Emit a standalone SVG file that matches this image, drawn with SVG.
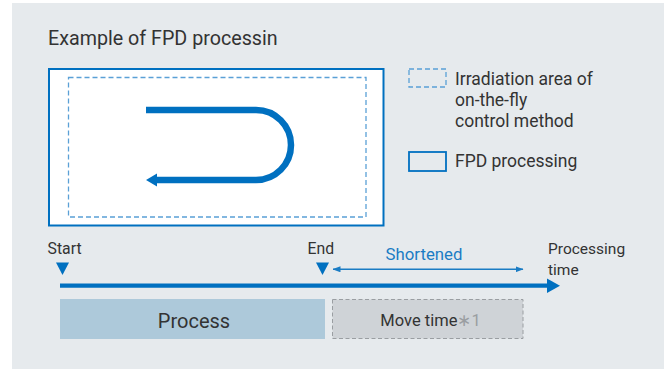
<svg xmlns="http://www.w3.org/2000/svg" width="664" height="369" viewBox="0 0 664 369">
<style>
text{font-family:Roboto,"Liberation Sans",sans-serif;fill:#333333}
.blue{stroke:#0070c0;fill:none}
.dash{stroke:#5aa0d6;fill:none;stroke-width:1.3;stroke-dasharray:5 3}
</style>
<defs>
<marker id="sm" viewBox="0 0 8 6" refX="7.5" refY="3" markerWidth="8" markerHeight="6" markerUnits="userSpaceOnUse" orient="auto-start-reverse">
<path d="M0,0 L8,3 L0,6 Z" fill="#1a7cc4"/>
</marker>
</defs>
<rect width="664" height="369" fill="#ffffff"/>
<rect x="12" y="3" width="652" height="366" fill="#e6eaed"/>
<text x="48" y="45" font-size="19.7">Example of FPD processin</text>
<g id="panel">
<rect x="49" y="69" width="334.5" height="156.5" fill="#ffffff" stroke="#0070c0" stroke-width="2"/>
<rect x="68.5" y="77.5" width="297.5" height="139.5" class="dash"/>
<path d="M146,110 H256 A35,35 0 0 1 256,180 H155" stroke="#0070c0" stroke-width="6.5" fill="none"/>
<path d="M146,180 L157,173.5 L157,186.5 Z" fill="#0070c0"/>
</g>
<g id="legend-irradiation">
<rect x="409" y="69" width="37" height="18" class="dash"/>
<text x="455" y="85" font-size="17.5">Irradiation area of</text>
<text x="455" y="106" font-size="17.5">on-the-fly</text>
<text x="455" y="127" font-size="17.5">control method</text>
</g>
<g id="legend-fpd">
<rect x="409" y="152" width="37" height="19" fill="none" stroke="#0070c0" stroke-width="1.8"/>
<text x="455" y="167" font-size="17.5">FPD processing</text>
</g>
<g id="start">
<text x="47.5" y="254" font-size="15.8">Start</text>
<path d="M56,262.5 L69,262.5 L62.5,275 Z" fill="#0070c0"/>
</g>
<g id="end">
<text x="307.5" y="254" font-size="15.8">End</text>
<path d="M316,262.5 L329,262.5 L322.5,275 Z" fill="#0070c0"/>
</g>
<g id="processing-time">
<text x="548" y="254" font-size="15.5">Processing</text>
<text x="548" y="275" font-size="15.5">time</text>
</g>
<g id="connectors">
<line x1="60" y1="285.7" x2="549" y2="285.7" stroke="#0070c0" stroke-width="4.2"/>
<path d="M547,278.5 L560,285.7 L547,293 Z" fill="#0070c0"/>
<line x1="333" y1="269.3" x2="523" y2="269.3" stroke="#1a7cc4" stroke-width="1.5" marker-start="url(#sm)" marker-end="url(#sm)"/>
</g>
<text x="424" y="260" font-size="16.8" text-anchor="middle" style="fill:#1a7cc4">Shortened</text>
<g id="process">
<rect x="60" y="299" width="265" height="40" fill="#adc9da"/>
<text x="194" y="328" font-size="20" text-anchor="middle">Process</text>
</g>
<g id="move-time">
<rect x="332.5" y="299.5" width="190.5" height="39" fill="#cfd3d7" stroke="#9a9ea2" stroke-width="1" stroke-dasharray="4 2.5"/>
<text x="430.5" y="326" font-size="16.5" text-anchor="middle">Move time<tspan style="fill:#9a9ea2">∗1</tspan></text>
</g>
</svg>
